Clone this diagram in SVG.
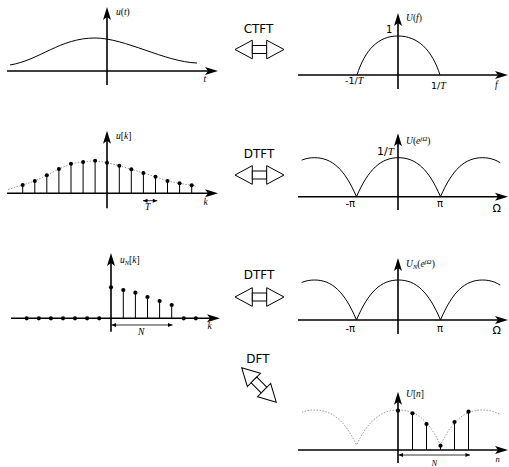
<svg xmlns="http://www.w3.org/2000/svg" xmlns:xlink="http://www.w3.org/1999/xlink" width="509" height="467" viewBox="0 0 509 467">
<style>
.ax{stroke:#000;stroke-width:1.6;fill:none;marker-end:url(#ah)}
.cv{stroke:#000;stroke-width:1;fill:none}
.dot{stroke:#999;stroke-width:1;fill:none;stroke-dasharray:1.5 1.5}
.st{stroke:#000;stroke-width:1}
.dim{stroke:#000;stroke-width:0.8;fill:none;marker-start:url(#sa);marker-end:url(#sa)}
.m{font-family:"Liberation Serif","Times New Roman",serif;font-style:italic;font-size:9.5px;fill:#000}
.up{font-style:normal}
.s{font-family:"DejaVu Sans","Liberation Sans",sans-serif;font-size:10px;fill:#000}
.lbl{font-family:"DejaVu Sans","Liberation Sans",sans-serif;font-size:12px;fill:#000;text-anchor:middle}
.arr{fill:#fff;stroke:#000;stroke-width:1}
</style>
<defs>
<marker id="ah" viewBox="-14 -5 15 10" refX="-8" refY="0" markerWidth="15" markerHeight="10" markerUnits="userSpaceOnUse" orient="auto">
<path d="M0,0 L-13,-4 L-10,0 L-13,4 Z" fill="#000"/>
</marker>
<marker id="sa" viewBox="-5 -3 6 6" refX="0" refY="0" markerWidth="6" markerHeight="6" markerUnits="userSpaceOnUse" orient="auto-start-reverse">
<path d="M0,0 L-4.5,-2 L-4.5,2 Z" fill="#000"/>
</marker>
<clipPath id="clipR"><rect x="301.7" y="0" width="198.5" height="467"/></clipPath>
<g id="dbl" class="arr">
<polygon points="-24.5,0 -7.2,-9.3 -7.2,9.3"/>
<rect x="-7.2" y="-4" width="14.4" height="8"/>
<polygon points="24.5,0 7.2,-9.3 7.2,9.3"/>
</g>
</defs>

<g id="ctft-time">
<line class="ax" x1="7" y1="71" x2="210" y2="71"/>
<line class="ax" x1="107" y1="85" x2="107" y2="15"/>
<path class="cv" d="M10,65 C40,60 60,38 95,38 C125,38 165,62 197,63"/>
<text class="m" x="116" y="15">u<tspan class="up">(</tspan>t<tspan class="up">)</tspan></text>
<text class="m" x="203.5" y="82">t</text>
</g>

<g id="ctft-freq">
<line class="ax" x1="298" y1="75" x2="500" y2="75"/>
<line class="ax" x1="398" y1="89" x2="398" y2="21"/>
<path class="cv" d="M357,75 C365,50 378,36 398,36 C418,36 432,50 440,75"/>
<text class="s" x="386" y="32.5">1</text>
<text class="s" x="345" y="84" style="font-size:9.5px">-1/<tspan class="m" style="font-size:10px">T</tspan></text>
<text class="s" x="431" y="88.5" style="font-size:9.5px">1/<tspan class="m" style="font-size:10px">T</tspan></text>
<text class="m" x="406" y="21">U<tspan class="up">(</tspan>f<tspan class="up">)</tspan></text>
<text class="m" x="495" y="87.5">f</text>
</g>

<g id="dtft-time">
<line class="ax" x1="7" y1="193.3" x2="210" y2="193.3"/>
<line class="ax" x1="107" y1="208.3" x2="107" y2="138.7"/>
<polyline class="dot" points="8,189.5 22.7,185 34.8,181 46.8,175.3 58.9,169 71,163.7 83.1,162 95.1,160.7 107.2,162.7 119.3,165.7 131.3,169.3 143.4,173 155.5,176.7 167.5,181 179.6,183.3 191.7,185.3 197,186.5"/>
<g class="st">
<line x1="22.7" y1="193.3" x2="22.7" y2="185"/>
<line x1="34.8" y1="193.3" x2="34.8" y2="181"/>
<line x1="46.8" y1="193.3" x2="46.8" y2="175.3"/>
<line x1="58.9" y1="193.3" x2="58.9" y2="169"/>
<line x1="71" y1="193.3" x2="71" y2="163.7"/>
<line x1="83.1" y1="193.3" x2="83.1" y2="162"/>
<line x1="95.1" y1="193.3" x2="95.1" y2="160.7"/>
<line x1="119.3" y1="193.3" x2="119.3" y2="165.7"/>
<line x1="131.3" y1="193.3" x2="131.3" y2="169.3"/>
<line x1="143.4" y1="193.3" x2="143.4" y2="173"/>
<line x1="155.5" y1="193.3" x2="155.5" y2="176.7"/>
<line x1="167.5" y1="193.3" x2="167.5" y2="181"/>
<line x1="179.6" y1="193.3" x2="179.6" y2="183.3"/>
<line x1="191.7" y1="193.3" x2="191.7" y2="185.3"/>
</g>
<g fill="#000">
<circle cx="22.7" cy="185" r="2"/><circle cx="34.8" cy="181" r="2"/><circle cx="46.8" cy="175.3" r="2"/>
<circle cx="58.9" cy="169" r="2"/><circle cx="71" cy="163.7" r="2"/><circle cx="83.1" cy="162" r="2"/>
<circle cx="95.1" cy="160.7" r="2"/><circle cx="107" cy="162.7" r="2"/><circle cx="119.3" cy="165.7" r="2"/>
<circle cx="131.3" cy="169.3" r="2"/><circle cx="143.4" cy="173" r="2"/><circle cx="155.5" cy="176.7" r="2"/>
<circle cx="167.5" cy="181" r="2"/><circle cx="179.6" cy="183.3" r="2"/><circle cx="191.7" cy="185.3" r="2"/>
</g>
<line class="dim" x1="143" y1="200.7" x2="157.3" y2="200.7"/>
<text class="m" x="145" y="210">T</text>
<text class="m" x="116" y="138.5">u<tspan class="up">[</tspan>k<tspan class="up">]</tspan></text>
<text class="m" x="203.5" y="205">k</text>
</g>

<g id="dtft-freq">
<line class="ax" x1="298" y1="196.7" x2="500" y2="196.7"/>
<line class="ax" x1="398" y1="210" x2="398" y2="141.3"/>
<path class="cv" clip-path="url(#clipR)" d="M272.5,196.7 C284.3,169.4 296.9,157.7 314.5,157.7 C332.1,157.7 344.7,169.4 356.5,196.7 C368.3,169.4 380.9,157.7 398.5,157.7 C416.1,157.7 428.7,169.4 440.5,196.7 C452.3,169.4 464.9,157.7 482.5,157.7 C500.1,157.7 512.7,169.4 524.5,196.7"/>
<text class="s" x="377" y="154.5" style="font-size:11px">1/<tspan class="m" style="font-size:11px">T</tspan></text>
<text class="m" x="406" y="144">U<tspan class="up">(</tspan>e<tspan dy="-3.5" style="font-size:7px">jΩ</tspan><tspan class="up" dy="3.5">)</tspan></text>
<text class="s" x="345.5" y="207">-π</text>
<text class="s" x="437" y="207">π</text>
<text class="s" x="492.5" y="212" style="font-size:11px">Ω</text>
</g>

<g id="dtft-periodic-time">
<line class="ax" x1="11" y1="318.3" x2="212" y2="318.3"/>
<line class="ax" x1="111" y1="331.7" x2="111" y2="261"/>
<g class="st">
<line x1="123.3" y1="318.3" x2="123.3" y2="290"/>
<line x1="135.4" y1="318.3" x2="135.4" y2="292.7"/>
<line x1="147.5" y1="318.3" x2="147.5" y2="297"/>
<line x1="159.6" y1="318.3" x2="159.6" y2="301"/>
<line x1="171.7" y1="318.3" x2="171.7" y2="305"/>
</g>
<g fill="#000">
<circle cx="26.7" cy="318.3" r="2.1"/><circle cx="38.8" cy="318.3" r="2.1"/><circle cx="50.9" cy="318.3" r="2.1"/>
<circle cx="63" cy="318.3" r="2.1"/><circle cx="75" cy="318.3" r="2.1"/><circle cx="87.1" cy="318.3" r="2.1"/>
<circle cx="99.2" cy="318.3" r="2.1"/><circle cx="111" cy="287.3" r="2.1"/><circle cx="123.3" cy="290" r="2.1"/>
<circle cx="135.4" cy="292.7" r="2.1"/><circle cx="147.5" cy="297" r="2.1"/><circle cx="159.6" cy="301" r="2.1"/>
<circle cx="171.7" cy="305" r="2.1"/><circle cx="183.7" cy="318.3" r="2.1"/><circle cx="195.8" cy="318.3" r="2.1"/>
</g>
<line class="dim" x1="111.5" y1="325" x2="172.5" y2="325"/>
<text class="m" x="138" y="335">N</text>
<text class="m" x="120" y="263">u<tspan dy="2" style="font-size:6.5px">N</tspan><tspan class="up" dy="-2">[</tspan>k<tspan class="up">]</tspan></text>
<text class="m" x="207.5" y="329">k</text>
</g>

<g id="dtft-periodic-freq">
<line class="ax" x1="298" y1="320" x2="500" y2="320"/>
<line class="ax" x1="398" y1="334" x2="398" y2="266"/>
<path class="cv" clip-path="url(#clipR)" d="M272.5,320 C284.3,292 296.9,280 314.5,280 C332.1,280 344.7,292 356.5,320 C368.3,292 380.9,280 398.5,280 C416.1,280 428.7,292 440.5,320 C452.3,292 464.9,280 482.5,280 C500.1,280 512.7,292 524.5,320"/>
<text class="m" x="406" y="267">U<tspan dy="2" style="font-size:6.5px">N</tspan><tspan class="up" dy="-2">(</tspan>e<tspan dy="-3.5" style="font-size:7px">jΩ</tspan><tspan class="up" dy="3.5">)</tspan></text>
<text class="s" x="345.5" y="332">-π</text>
<text class="s" x="437" y="332">π</text>
<text class="s" x="492.5" y="333.5" style="font-size:11px">Ω</text>
</g>

<g id="dft-freq">
<line class="ax" x1="298" y1="450" x2="500" y2="450"/>
<line class="ax" x1="398" y1="463" x2="398" y2="399.7"/>
<path class="dot" clip-path="url(#clipR)" d="M272.5,445 C284.3,420.5 296.9,410 314.5,410 C332.1,410 344.7,420.5 356.5,445 C368.3,420.5 380.9,410 398.5,410 C416.1,410 428.7,420.5 440.5,445 C452.3,420.5 464.9,410 482.5,410 C500.1,410 512.7,420.5 524.5,445"/>
<g class="st">
<line x1="412.5" y1="450" x2="412.5" y2="413.3"/>
<line x1="426.5" y1="450" x2="426.5" y2="424"/>
<line x1="440.5" y1="450" x2="440.5" y2="445.7"/>
<line x1="454.5" y1="450" x2="454.5" y2="422"/>
<line x1="468.5" y1="450" x2="468.5" y2="411.7"/>
</g>
<g fill="#000">
<circle cx="398" cy="410.7" r="2.1"/><circle cx="412.5" cy="413.3" r="2.1"/><circle cx="426.5" cy="424" r="2.1"/>
<circle cx="440.5" cy="445.7" r="2.1"/><circle cx="454.5" cy="422" r="2.1"/><circle cx="468.5" cy="411.7" r="2.1"/>
</g>
<line class="dim" x1="398.5" y1="455" x2="470" y2="455"/>
<text class="m" x="431.5" y="466" style="font-size:8.5px">N</text>
<text class="m" x="406" y="397">U<tspan class="up">[</tspan>n<tspan class="up">]</tspan></text>
<text class="m" x="495.5" y="462" style="font-size:8.5px">n</text>
</g>

<g id="connectors">
<text class="lbl" x="258.5" y="33">CTFT</text>
<use xlink:href="#dbl" transform="translate(259.5,49.5)"/>
<text class="lbl" x="259" y="158.3">DTFT</text>
<use xlink:href="#dbl" transform="translate(259.5,175)"/>
<text class="lbl" x="259" y="279.3">DTFT</text>
<use xlink:href="#dbl" transform="translate(259.5,297)"/>
<text class="lbl" x="258" y="362.7">DFT</text>
<use xlink:href="#dbl" transform="translate(259,385) rotate(45)"/>
</g>
</svg>
